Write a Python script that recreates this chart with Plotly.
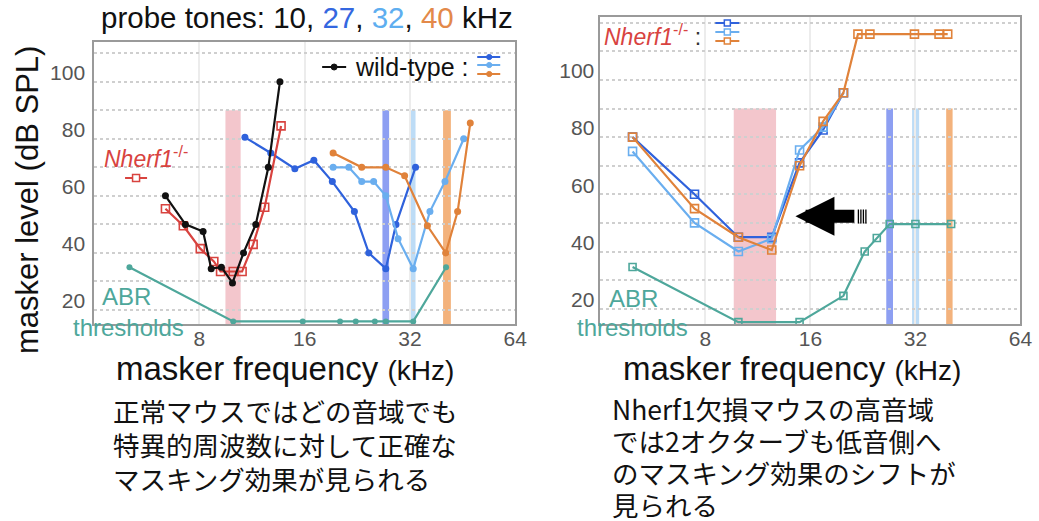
import math
import plotly.graph_objects as go

W, H = 1039, 521

# ---------------- data ----------------
# left panel: wild-type masking curves (masker kHz, masker dB SPL)
wt10_f = [6.4, 7.3, 8.2, 8.65, 9.25, 9.95, 10.7, 11.6, 12.6, 13.6]
wt10_db = [60, 50, 47.5, 34.5, 35, 29.5, 40, 50, 70, 100]
wt27_f = [10.8, 12.8, 15.0, 17.0, 19.2, 22.2, 24.4, 27.3, 29.2, 33.2]
wt27_db = [80.5, 75, 69.5, 72.5, 65, 54.5, 40, 34.5, 50, 70]
wt32_f = [19.3, 21.4, 23.3, 25.2, 27.3, 29.6, 32.7, 36.5, 40.3, 45.6]
wt32_db = [70, 70, 65, 65, 60, 45, 34.5, 54.5, 65, 80]
wt40_f = [19.3, 23.3, 27.3, 30.9, 35.9, 40.5, 43.8, 47.6]
wt40_db = [75, 70, 70, 67, 49.5, 40, 54.5, 85.5]
# left panel: Nherf1-/- 10 kHz curve
ko10_f = [6.4, 7.2, 8.05, 8.8, 9.2, 10.0, 10.6, 11.4, 12.3, 13.7]
ko10_db = [55.5, 49.5, 41.5, 37, 33.5, 33.5, 33.5, 43, 56, 84.5]
# left panel: ABR thresholds (wild-type)
abr_wt_f = [5.05, 10.0, 15.8, 20.2, 22.4, 25.4, 27.3, 32.7, 40.6]
abr_wt_db = [35, 16, 16, 16, 16, 16, 16, 16, 35]

# right panel: Nherf1-/- masking curves
ko_f = [4.95, 7.45, 9.95, 12.4, 14.9, 17.4, 19.9]
ko27_db = [80, 60, 45, 45, 71, 82.5, 95.5]
ko32_db = [75, 50, 40, 44.5, 75.5, 83.5, 95.5]
ko40_f = [4.95, 7.45, 9.95, 12.4, 14.9, 17.4, 19.9, 21.9, 23.7, 31.8, 37.4, 39.6]
ko40_db = [80, 55, 45, 40.5, 70, 85.5, 95.5, 116, 116, 116, 116, 116]
# right panel: ABR thresholds (Nherf1-/-)
abr_ko_f = [4.95, 9.95, 14.9, 19.9, 22.9, 24.8, 27.0, 32.0, 40.5]
abr_ko_db = [34.6, 15.3, 15.3, 24.5, 40, 44.7, 49.6, 49.6, 49.6]

# probe-tone bands (kHz low / high edges), top level in dB
left_band_lo = [9.5, 26.7, 31.8, 39.8]
left_band_hi = [10.5, 27.9, 33.2, 41.9]
right_band_lo = [9.65, 26.4, 31.3, 39.2]
right_band_hi = [12.76, 27.6, 32.8, 40.9]
band_top_db = 90

x_ticks = [8, 16, 32, 64]
y_grid = [20, 30, 40, 50, 60, 70, 80, 90, 100, 110, 120]
y_labels = ["20", "", "40", "", "60", "", "80", "", "100", "", ""]

# ---------------- styles ----------------
C_BLACK = "#111111"
C_BLUE = "#2f62dc"
C_LBLUE = "#6aaeef"
C_ORANGE = "#e0823a"
C_RED = "#d8433f"
C_TEAL = "#4ea79b"
BAND_COLORS = ["#f3c6cc", "#8d9ff2", "#bddcf6", "#f3b27c"]
FONT = "Liberation Sans"
KX = 1 / 0.988  # horizontal calibration of the pixel estimates


def PX(x):
    return min(1.0, x * KX / W)


def PY(y):
    return 1 - y / H


fig = go.Figure()


def wt_trace(f, db, color, ax):
    fig.add_trace(go.Scatter(
        x=f, y=db, mode="lines+markers", xaxis=ax[0], yaxis=ax[1],
        line=dict(color=color, width=2.2),
        marker=dict(symbol="circle", size=7, color=color),
        showlegend=False, hoverinfo="skip"))


def ko_trace(f, db, color, ax, size=8):
    fig.add_trace(go.Scatter(
        x=f, y=db, mode="lines+markers", xaxis=ax[0], yaxis=ax[1],
        line=dict(color=color, width=2.2),
        marker=dict(symbol="square-open", size=size, color=color,
                    line=dict(width=1.6, color=color)),
        showlegend=False, hoverinfo="skip"))


L = ("x", "y")
R = ("x2", "y2")

# left panel
fig.add_trace(go.Scatter(
    x=abr_wt_f, y=abr_wt_db, mode="lines+markers", xaxis="x", yaxis="y",
    line=dict(color=C_TEAL, width=2.2), marker=dict(size=6, color=C_TEAL),
    showlegend=False, hoverinfo="skip"))
wt_trace(wt27_f, wt27_db, C_BLUE, L)
wt_trace(wt32_f, wt32_db, C_LBLUE, L)
wt_trace(wt40_f, wt40_db, C_ORANGE, L)
ko_trace(ko10_f, ko10_db, C_RED, L)
wt_trace(wt10_f, wt10_db, C_BLACK, L)

# right panel
ko_trace(abr_ko_f, abr_ko_db, C_TEAL, R, size=7)
ko_trace(ko_f, ko27_db, C_BLUE, R)
ko_trace(ko_f, ko32_db, C_LBLUE, R)
ko_trace(ko40_f, ko40_db, C_ORANGE, R)

shapes = []
for lo, hi, col in zip(left_band_lo, left_band_hi, BAND_COLORS):
    shapes.append(dict(type="rect", xref="x", yref="y", x0=lo, x1=hi,
                       y0=10, y1=band_top_db, fillcolor=col, line_width=0,
                       layer="below"))
for lo, hi, col in zip(right_band_lo, right_band_hi, BAND_COLORS):
    shapes.append(dict(type="rect", xref="x2", yref="y2", x0=lo, x1=hi,
                       y0=10, y1=band_top_db, fillcolor=col, line_width=0,
                       layer="below"))


# legend glyphs (paper coordinates from pixel positions)
def glyph_line(x0, x1, y, color):
    shapes.append(dict(type="line", xref="paper", yref="paper",
                       x0=PX(x0), x1=PX(x1), y0=PY(y), y1=PY(y),
                       line=dict(color=color, width=2)))


def glyph_square(cx, cy, color, s=3.5):
    shapes.append(dict(type="rect", xref="paper", yref="paper",
                       x0=PX(cx - s), x1=PX(cx + s), y0=PY(cy - s), y1=PY(cy + s),
                       fillcolor="white", line=dict(color=color, width=1.5)))


def glyph_dot(cx, cy, color, s=3):
    shapes.append(dict(type="circle", xref="paper", yref="paper",
                       x0=PX(cx - s), x1=PX(cx + s), y0=PY(cy - s), y1=PY(cy + s),
                       fillcolor=color, line=dict(color=color, width=1)))


glyph_line(322, 346, 67, C_BLACK)
glyph_dot(334, 67, C_BLACK)
for yy, col in zip([57, 65, 74], [C_BLUE, C_LBLUE, C_ORANGE]):
    glyph_line(477, 500, yy, col)
    glyph_dot(489, yy, col, 2.6)
glyph_line(125, 147, 178, C_RED)
glyph_square(136, 178, C_RED)
for yy, col in zip([23, 32, 41], [C_BLUE, C_LBLUE, C_ORANGE]):
    glyph_line(715, 739, yy, col)
    glyph_square(727, yy, col, 3)

# hatched tail of the arrow
for xx in [858, 860.5, 863, 865.5]:
    shapes.append(dict(type="line", xref="paper", yref="paper",
                       x0=PX(xx), x1=PX(xx), y0=PY(209.5), y1=PY(223.5),
                       line=dict(color="black", width=1.3)))

ann = []


def txt(x, y, s, size, color="#111", xanchor="left", **kw):
    ann.append(dict(x=PX(x), y=PY(y), xref="paper", yref="paper", text=s,
                    showarrow=False, xanchor=xanchor, yanchor="middle",
                    font=dict(family=kw.pop("family", FONT), size=size, color=color), **kw))


txt(307, 18, "probe tones: 10, <span style='color:#3467e0'>27</span>, "
    "<span style='color:#5eaef0'>32</span>, <span style='color:#e3894a'>40</span> kHz",
    29.5, xanchor="center")
txt(27, 200, "masker level (dB SPL)", 31, xanchor="center", textangle=-90)
txt(285, 368, "masker frequency <span style='font-size:28px'>(kHz)</span>", 33, xanchor="center")
txt(792, 368, "masker frequency <span style='font-size:28px'>(kHz)</span>", 33, xanchor="center")

txt(353, 67, "wild-type :", 25)
txt(102, 157, "<i>Nherf1</i><sup>-/-</sup>", 23, C_RED)
txt(602, 35, "<i>Nherf1</i><sup>-/-</sup> <span style='color:#333'>:</span>", 23, C_RED)
txt(100, 296, "ABR", 24, C_TEAL)
txt(186, 327, "thresholds", 24, C_TEAL, xanchor="right")
txt(607, 298, "ABR", 24, C_TEAL)
txt(690, 327, "thresholds", 24, C_TEAL, xanchor="right")

JP = "Noto Sans CJK JP"
left_lines = ["正常マウスではどの音域でも", "特異的周波数に対して正確な", "マスキング効果が見られる"]
right_lines = ["Nherf1欠損マウスの高音域", "では2オクターブも低音側へ", "のマスキング効果のシフトが", "見られる"]
for i, s in enumerate(left_lines):
    txt(111, 410 + 34 * i, s, 26.5, family=JP)
for i, s in enumerate(right_lines):
    txt(610, 408 + 32 * i, s, 26.5, family=JP)

# arrow on the right panel
ann.append(dict(x=math.log10(14.5), y=52.3, xref="x2", yref="y2",
                ax=math.log10(21.6), ay=52.3, axref="x2", ayref="y2",
                text="", showarrow=True, arrowhead=2, arrowsize=0.6,
                arrowwidth=13, arrowcolor="black", standoff=0))

xaxis_common = dict(type="log", range=[math.log10(4), math.log10(64)],
                    tickvals=x_ticks, ticktext=[str(v) for v in x_ticks],
                    showgrid=True, gridcolor="#ececec", gridwidth=1.5,
                    zeroline=False, showline=True, mirror=True,
                    linecolor="#9a9a9a", linewidth=1.5, ticks="",
                    ticklabelstandoff=-5,
                    tickfont=dict(family=FONT, size=21, color="#555"))
yaxis_common = dict(tickvals=y_grid, ticktext=y_labels, showgrid=True,
                    gridcolor="#cfcfcf", gridwidth=1.5, griddash="dot",
                    zeroline=False, showline=True, mirror=True,
                    linecolor="#9a9a9a", linewidth=1.5, ticks="",
                    ticklabelshift=-9,
                    tickfont=dict(family=FONT, size=21, color="#555"))

fig.update_layout(
    width=W, height=H, margin=dict(l=0, r=0, t=0, b=0),
    paper_bgcolor="white", plot_bgcolor="white", showlegend=False,
    xaxis=dict(domain=[PX(94), PX(515)], anchor="y", **xaxis_common),
    yaxis=dict(domain=[PY(324), PY(42)], anchor="x", range=[15.1, 113.9],
               ticklabelstandoff=3, **yaxis_common),
    xaxis2=dict(domain=[PX(600), PX(1020)], anchor="y2", **xaxis_common),
    yaxis2=dict(domain=[PY(324), PY(17)], anchor="x2", range=[14.65, 122.0],
                ticklabelstandoff=0, **yaxis_common),
    shapes=shapes, annotations=ann,
)

fig.write_html(
    "out.html",
    config={"displayModeBar": False},
    post_script=("document.body.style.margin='0px';"
                 "document.body.style.overflow='hidden';"
                 "document.documentElement.style.overflow='hidden';"),
)
